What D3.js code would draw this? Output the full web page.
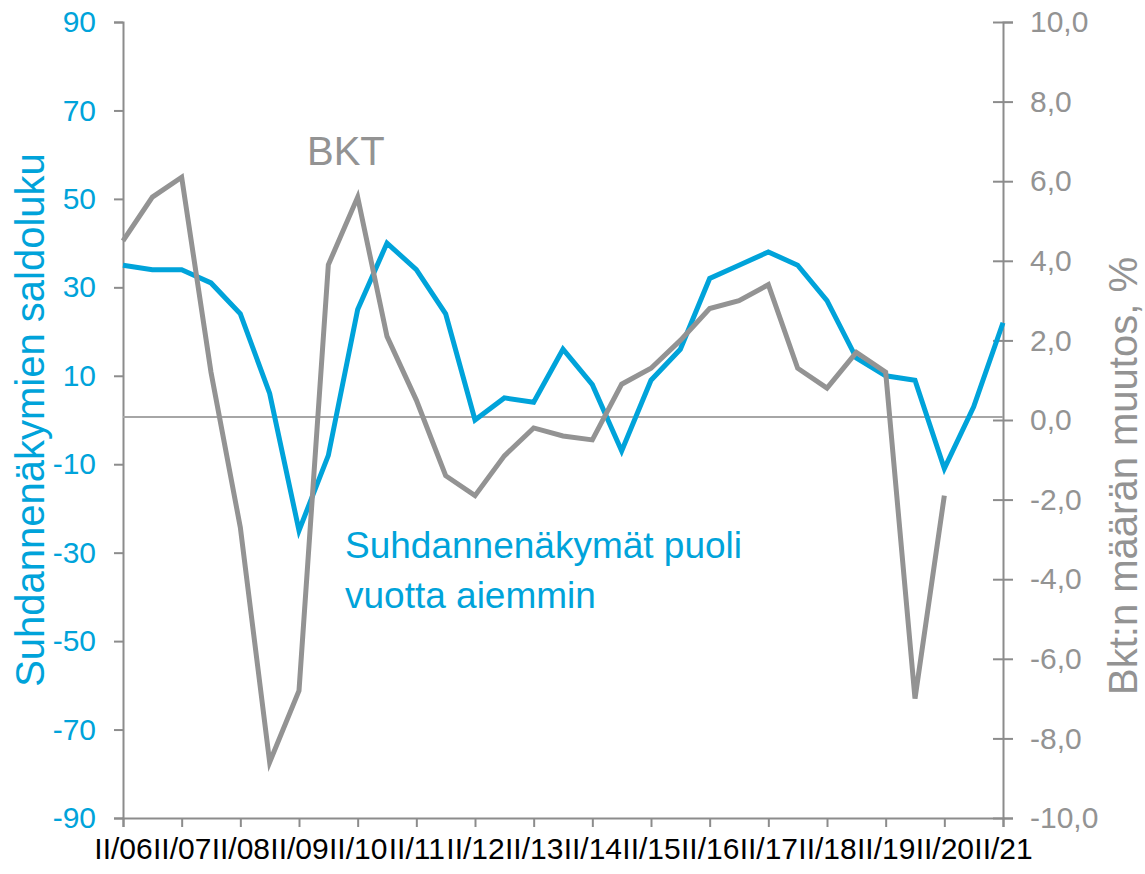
<!DOCTYPE html>
<html>
<head>
<meta charset="utf-8">
<script src="https://cdn.jsdelivr.net/npm/d3@7/dist/d3.min.js"></script>
<style>
	body { margin: 0; background: #fff; }
	text { font-family: "Liberation Sans", Arial, sans-serif; }
</style>
</head>
<body>
<div id="chart"></div>
<script>

// Half-year periods, tick labels every other point
var periods = ["II/06", "I/07", "II/07", "I/08", "II/08", "I/09", "II/09", "I/10", "II/10", "I/11",
	"II/11", "I/12", "II/12", "I/13", "II/13", "I/14", "II/14", "I/15", "II/15", "I/16",
	"II/16", "I/17", "II/17", "I/18", "II/18", "I/19", "II/19", "I/20", "II/20", "I/21", "II/21"];
var tickLabels = ["II/06", "II/07", "II/08", "II/09", "II/10", "II/11", "II/12", "II/13",
	"II/14", "II/15", "II/16", "II/17", "II/18", "II/19", "II/20", "II/21"];

// Suhdannenäkymät (left axis, saldoluku)
var outlook = [35, 34, 34, 31, 24, 6, -25, -8, 25, 40, 34, 24, 0, 5, 4, 16, 8, -7, 9, 16,
	32, 35, 38, 35, 27, 14, 10, 9, -11, 3, 22];

// BKT (right axis, %)
var gdp = [4.5, 5.6, 6.1, 1.2, -2.7, -8.6, -6.8, 3.9, 5.6, 2.1, 0.5, -1.4, -1.9, -0.9, -0.2,
	-0.4, -0.5, 0.9, 1.3, 2.0, 2.8, 3.0, 3.4, 1.3, 0.8, 1.7, 1.2, -7.0, -1.9];

var leftTicks = [90, 70, 50, 30, 10, -10, -30, -50, -70, -90];
var rightTicks = [10, 8, 6, 4, 2, 0, -2, -4, -6, -8, -10];

var blue = "#00a3da",
	grey = "#939393",
	axisGrey = "#8c8c8c";

///////////////////////////////////////////////////////////////////////////
//////////////////////////// Set up svg & scales //////////////////////////
///////////////////////////////////////////////////////////////////////////

var svgW = 1145,
	svgH = 874;
var margin = { left: 123, top: 22, right: 142, bottom: 56 },
	width = svgW - margin.left - margin.right,
	height = svgH - margin.top - margin.bottom;

var svg = d3.select("#chart")
	.append("svg")
	.attr("width", svgW)
	.attr("height", svgH)
	.append("g")
	.attr("transform", "translate(" + margin.left + "," + margin.top + ")");

var x = d3.scaleLinear()
	.domain([0, periods.length - 1])
	.range([0, width]);

var yLeft = d3.scaleLinear()
	.domain([-90, 90])
	.range([height, 0]);

var yRight = d3.scaleLinear()
	.domain([-10, 10])
	.range([height, 0]);

///////////////////////////////////////////////////////////////////////////
////////////////////////////////// Axes ///////////////////////////////////
///////////////////////////////////////////////////////////////////////////

var fmtRight = function(d) {
	return d3.format(".1f")(d).replace(".", ",").replace("−", "-");
};

var gLeft = svg.append("g")
	.call(d3.axisLeft(yLeft)
		.tickValues(leftTicks)
		.tickSize(9)
		.tickPadding(18)
		.tickFormat(function(d) { return String(d); }));

var gRight = svg.append("g")
	.attr("transform", "translate(" + width + ",0)")
	.call(d3.axisRight(yRight)
		.tickValues(rightTicks)
		.tickSize(10)
		.tickPadding(17)
		.tickFormat(fmtRight));

// right ticks cross the axis line
gRight.selectAll(".tick line").attr("x1", -10);

var gBottom = svg.append("g")
	.attr("transform", "translate(0," + height + ")")
	.call(d3.axisBottom(x)
		.tickValues(d3.range(0, periods.length, 2))
		.tickSize(9)
		.tickPadding(14)
		.tickFormat(function(d, i) { return tickLabels[i]; }));

[gLeft, gRight, gBottom].forEach(function(g) {
	g.select(".domain").attr("stroke", axisGrey).attr("stroke-width", 2);
	g.selectAll(".tick line").attr("stroke", axisGrey).attr("stroke-width", 2);
	g.selectAll(".tick text").style("font-size", "30px");
});

gLeft.selectAll(".tick text").attr("fill", blue);
gRight.selectAll(".tick text").attr("fill", grey);
gBottom.selectAll(".tick text").attr("fill", "#000").attr("dy", "0.6em");

// Zero line
svg.append("line")
	.attr("x1", 0)
	.attr("x2", width)
	.attr("y1", yRight(0) - 3)
	.attr("y2", yRight(0) - 3)
	.attr("stroke", "#a6a6a6")
	.attr("stroke-width", 2);

///////////////////////////////////////////////////////////////////////////
////////////////////////////////// Lines //////////////////////////////////
///////////////////////////////////////////////////////////////////////////

var lineLeft = d3.line()
	.x(function(d, i) { return x(i); })
	.y(function(d) { return yLeft(d); });

var lineRight = d3.line()
	.x(function(d, i) { return x(i); })
	.y(function(d) { return yRight(d); });

svg.append("path")
	.datum(outlook)
	.attr("d", lineLeft)
	.attr("fill", "none")
	.attr("stroke", blue)
	.attr("stroke-width", 5);

svg.append("path")
	.datum(gdp)
	.attr("d", lineRight)
	.attr("fill", "none")
	.attr("stroke", grey)
	.attr("stroke-width", 5);

///////////////////////////////////////////////////////////////////////////
///////////////////////////// Titles & labels /////////////////////////////
///////////////////////////////////////////////////////////////////////////

svg.append("text")
	.attr("transform", "translate(" + (44 - margin.left) + "," + (height / 2) + ") rotate(-90)")
	.attr("text-anchor", "middle")
	.attr("fill", blue)
	.style("font-size", "40px")
	.text("Suhdannenäkymien saldoluku");

svg.append("text")
	.attr("transform", "translate(" + (1137 - margin.left) + "," + (476 - margin.top) + ") rotate(-90)")
	.attr("text-anchor", "middle")
	.attr("fill", grey)
	.style("font-size", "40px")
	.text("Bkt:n määrän muutos, %");

svg.append("text")
	.attr("x", 307 - margin.left)
	.attr("y", 165 - margin.top)
	.attr("fill", grey)
	.style("font-size", "40px")
	.text("BKT");

var note = svg.append("text")
	.attr("x", 345 - margin.left)
	.attr("y", 558 - margin.top)
	.attr("fill", blue)
	.style("font-size", "37px");
note.append("tspan").attr("x", 345 - margin.left).text("Suhdannenäkymät puoli");
note.append("tspan").attr("x", 345 - margin.left).attr("dy", 50).text("vuotta aiemmin");

</script>
</body>
</html>
